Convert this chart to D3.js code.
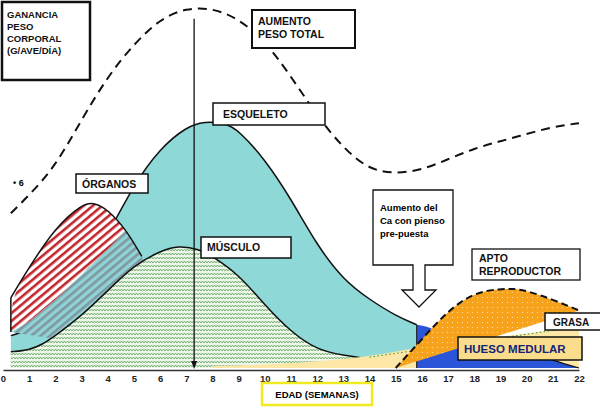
<!DOCTYPE html>
<html><head><meta charset="utf-8">
<script src="https://cdn.jsdelivr.net/npm/d3@7"></script>
<style>body{margin:0;background:#fff}text{font-family:"Liberation Sans",Arial,sans-serif;font-weight:bold}</style>
</head><body><svg id="c" width="600" height="407"></svg>
<script>
// weeks / relative gain (0-10)
const weeks = d3.range(0, 23);
const totalGain = [[0.3,4.3],[1,4.8],[2,5.6],[3,6.9],[4,8.1],[5,9.0],[6,9.7],[7,10],[8,10],[9,9.7],[10,9.1],[11,8.1],[12,7.0],[13,6.1],[14,5.5],[15,5.4],[16,5.5],[17,5.8],[18,6.1],[19,6.3],[20,6.5],[21,6.7],[22,6.8]];
const skeleton = [[0.3,0.9],[1,1.05],[2,1.45],[3,2.45],[4,3.7],[5,5.1],[6,6.1],[7,6.7],[7.7,6.85],[8.5,6.8],[9,6.6],[10,5.8],[11,4.7],[12,3.4],[13,2.45],[14,1.9],[15,1.45],[15.8,1.2]];
const organs = [[0.3,1.0],[0.3,1.95],[1,2.8],[2,3.9],[3,4.55],[3.5,4.6],[4,4.4],[4.7,3.85],[5.3,3.1],[6,2.1],[7,1.0],[8,0.35],[9,0]];
const organsLower = [[0.3,1.0],[1,1.3],[2,1.9],[3,2.6],[4,3.3],[4.7,3.85]];
const muscle = [[0.3,0.45],[1,0.5],[1.5,0.65],[2,0.9],[3,1.45],[4,2.15],[5,2.85],[6,3.25],[6.7,3.4],[7.5,3.3],[8,3.1],[9,2.6],[10,1.75],[11,1.0],[12,0.5],[13,0.35],[14,0.25]];
const fat = [[8,0.05],[11,0.12],[14,0.3],[16,0.6],[18,0.8],[20,0.95],[22,1.15]];
const medullary = [[15.8,1.2],[16.5,1.05],[17,0.65],[18,0.6],[19,0.8],[20,0.5],[21,0.22],[22,0]];
const reproTop = [[15,0],[16,0.8],[17,1.6],[18,2.1],[19,2.2],[19.5,2.2],[20,2.15],[21,1.9],[22,1.6]];

const svg = d3.select("#c");
const x = d3.scaleLinear().domain([0, 22]).range([3, 579]);
const y = d3.scaleLinear().domain([0, 10]).range([368, 8]);
const curve = d3.curveBasis;
const defs = svg.append("defs");

let p = defs.append("pattern").attr("id", "red").attr("width", 6).attr("height", 6)
  .attr("patternUnits", "userSpaceOnUse").attr("patternTransform", "rotate(-40)");
p.append("rect").attr("width", 6).attr("height", 6).attr("fill", "#fff");
p.append("rect").attr("width", 6).attr("height", 2.6).attr("fill", "#c0262c");
p = defs.append("pattern").attr("id", "grey").attr("width", 6).attr("height", 6)
  .attr("patternUnits", "userSpaceOnUse").attr("patternTransform", "rotate(-40)");
p.append("rect").attr("width", 6).attr("height", 6).attr("fill", "#8fd3d6");
p.append("rect").attr("width", 6).attr("height", 2.6).attr("fill", "#7f98a0");
p = defs.append("pattern").attr("id", "green").attr("width", 6).attr("height", 4)
  .attr("patternUnits", "userSpaceOnUse");
p.append("rect").attr("width", 6).attr("height", 4).attr("fill", "#eef6ea");
p.append("path").attr("d", "M0,3 L1.5,1 L3,3 L4.5,1 L6,3").attr("fill", "none").attr("stroke", "#5aa05a").attr("stroke-width", 0.8);
p = defs.append("pattern").attr("id", "orange").attr("width", 5).attr("height", 5)
  .attr("patternUnits", "userSpaceOnUse");
p.append("rect").attr("width", 5).attr("height", 5).attr("fill", "#f7a21b");
p.append("circle").attr("cx", 2.5).attr("cy", 2.5).attr("r", 0.6).attr("fill", "#fde7b8");

const line = d3.line().x(d => x(d[0])).y(d => y(d[1])).curve(curve);
const area = d3.area().x(d => x(d[0])).y0(y(0)).y1(d => y(d[1])).curve(curve);

// skeleton
svg.append("path").attr("d", area(skeleton)).attr("fill", "#8fd8d8");
svg.append("path").attr("d", line(skeleton)).attr("fill", "none").attr("stroke", "#111").attr("stroke-width", 1.5);

// organs: red above boundary, grey over skeleton below it
const boundary = [...organsLower, ...skeleton.filter(d => d[0] >= 5.2)];
const lin = d3.line().x(d => x(d[0])).y(d => y(d[1]));
defs.append("clipPath").attr("id", "aboveSk").append("path")
  .attr("d", lin([[0, 1.0], ...boundary, [15.8, 0], [22, 0], [22, 10], [0, 10]]) + "Z");
defs.append("clipPath").attr("id", "belowSk").append("path")
  .attr("d", lin([[0, 1.0], ...boundary, [15.8, 0], [0, 0]]) + "Z");
const orgPath = line(organs) + "Z";
svg.append("path").attr("d", orgPath).attr("fill", "url(#grey)").attr("clip-path", "url(#belowSk)");
svg.append("path").attr("d", orgPath).attr("fill", "url(#red)").attr("clip-path", "url(#aboveSk)");
svg.append("path").attr("d", line(organs.slice(1, 9))).attr("fill", "none").attr("stroke", "#111").attr("stroke-width", 1.5);
svg.append("line").attr("x1", x(0.3)).attr("x2", x(0.3)).attr("y1", y(1.0)).attr("y2", y(1.95)).attr("stroke", "#111").attr("stroke-width", 1.5);

// muscle
svg.append("path").attr("d", area(muscle)).attr("fill", "url(#green)");
svg.append("path").attr("d", line(muscle)).attr("fill", "none").attr("stroke", "#111").attr("stroke-width", 1.5);

// fat
svg.append("path").attr("d", area(fat)).attr("fill", "#fce7a6");
svg.append("path").attr("d", lin([[14, 0.3], [22, 1.15]]))
  .attr("fill", "none").attr("stroke", "#3a8a3a").attr("stroke-dasharray", "1.5,2.5");

// medullary bone
const mono = d3.area().x(d => x(d[0])).y0(y(0)).y1(d => y(d[1])).curve(d3.curveMonotoneX);
svg.append("path").attr("d", mono(medullary)).attr("fill", "#2a55d8");
svg.append("path").attr("d", mono.lineY1()(medullary.slice(3))).attr("fill", "none").attr("stroke", "#111").attr("stroke-width", 1.2);
svg.append("line").attr("x1", x(15.8)).attr("x2", x(15.8)).attr("y1", y(1.2)).attr("y2", y(0)).attr("stroke", "#111");

// reproductive
svg.append("path").attr("d", line(reproTop) + "L" + x(15) + "," + y(0) + "Z").attr("fill", "url(#orange)");
svg.append("path").attr("d", line(reproTop)).attr("fill", "none").attr("stroke", "#111").attr("stroke-width", 2).attr("stroke-dasharray", "7,4");

// total gain
svg.append("path").attr("d", line(totalGain)).attr("fill", "none").attr("stroke", "#111").attr("stroke-width", 2).attr("stroke-dasharray", "9,6");

// vertical arrow at 7.3 weeks
svg.append("line").attr("x1", x(7.3)).attr("x2", x(7.3)).attr("y1", y(9.7)).attr("y2", y(0) - 4).attr("stroke", "#111").attr("stroke-width", 1.3);
svg.append("path").attr("d", `M${x(7.3) - 3},${y(0) - 7}L${x(7.3) + 3},${y(0) - 7}L${x(7.3)},${y(0) + 1}Z`).attr("fill", "#111");

// x axis
const ax = svg.append("g").attr("transform", `translate(0,${y(0) + 2})`)
  .call(d3.axisBottom(x).tickValues(weeks).tickSize(0).tickPadding(5).tickFormat(d3.format("d")));
ax.select(".domain").attr("stroke", "#333").attr("stroke-width", 1.5);
ax.selectAll("text").attr("font-size", 9.5).attr("fill", "#222").style("font-weight", "bold");

svg.append("text").attr("x", 13).attr("y", 186).attr("font-size", 9).text("•   6");

// boxes
function box(x0, y0, w, h, lines, o = {}) {
  const g = svg.append("g");
  g.append("rect").attr("x", x0).attr("y", y0).attr("width", w).attr("height", h)
    .attr("fill", o.fill || "#fff").attr("stroke", o.stroke || "#111").attr("stroke-width", o.sw || 1.5);
  lines.forEach((t, i) => g.append("text").attr("x", x0 + (o.dx || 6)).attr("y", y0 + (o.dy || 14) + i * (o.lh || 14))
    .attr("font-size", o.fs || 10.5).attr("fill", o.color || "#111").text(t));
}
box(2, 2, 88, 78, ["GANANCIA", "PESO", "CORPORAL", "(G/AVE/DÍA)"], { sw: 2.5, fs: 9.5, lh: 12, dy: 16, dx: 5 });
box(252, 10, 103, 38, ["AUMENTO", "PESO TOTAL"], { sw: 2, dy: 15, lh: 13, dx: 6 });
box(213, 103, 112, 22, ["ESQUELETO"], { dy: 15, dx: 10 });
box(76, 174, 72, 19, ["ÓRGANOS"], { dy: 14, dx: 6 });
box(201, 237, 90, 21, ["MÚSCULO"], { dy: 14, dx: 6 });
box(472, 249, 108, 31, ["APTO", "REPRODUCTOR"], { dy: 13, lh: 13, dx: 7, sw: 1.3 });
box(545, 313, 60, 17, ["GRASA"], { dy: 13, dx: 8, fs: 10 });
box(458, 337, 124, 23, ["HUESO MEDULAR"], { fill: "#f9dc8c", color: "#13237a", dy: 16, dx: 6, fs: 11.5 });

// Ca arrow callout
svg.append("path").attr("d", "M373,190L453,190L453,265L425,265L425,290L436,290L419,307L402,290L413,290L413,265L373,265Z")
  .attr("fill", "#fff").attr("stroke", "#111").attr("stroke-width", 1.3);
["Aumento del", "Ca con pienso", "pre-puesta"].forEach((t, i) =>
  svg.append("text").attr("x", 380).attr("y", 211 + i * 13).attr("font-size", 9.5).text(t));

// x axis title
svg.append("rect").attr("x", 262).attr("y", 383).attr("width", 110).attr("height", 22).attr("fill", "#fff").attr("stroke", "#f2ea20").attr("stroke-width", 2.5);
svg.append("text").attr("x", 317).attr("y", 398).attr("text-anchor", "middle").attr("font-size", 9.5).text("EDAD (SEMANAS)");
</script></body></html>
